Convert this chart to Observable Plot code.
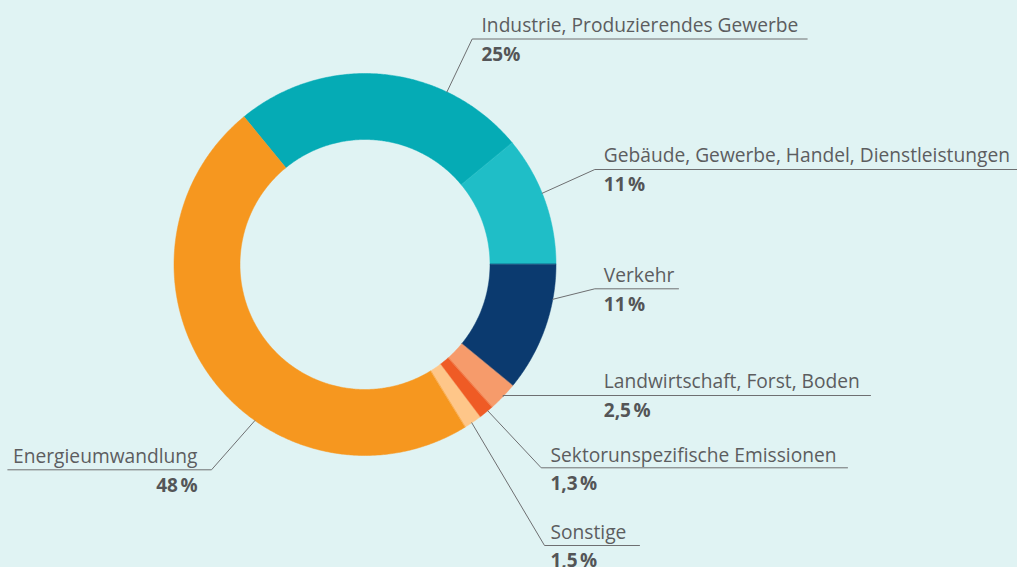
<!DOCTYPE html>
<html>
<head>
<meta charset="utf-8">
<script src="https://cdn.jsdelivr.net/npm/d3@7"></script>
<script src="https://cdn.jsdelivr.net/npm/@observablehq/plot@0.6"></script>
<style>
  html, body { margin: 0; padding: 0; background: #e0f3f3; }
  #chart svg { display: block; background: #e0f3f3; }
</style>
</head>
<body>
<div id="chart"></div>
<script>
// ---- data ----
const names = [
  "Industrie, Produzierendes Gewerbe",
  "Gebäude, Gewerbe, Handel, Dienstleistungen",
  "Verkehr",
  "Landwirtschaft, Forst, Boden",
  "Sektorunspezifische Emissionen",
  "Sonstige",
  "Energieumwandlung"
];
const values = [25, 11, 11, 2.5, 1.3, 1.5, 48];
const pctLabels = ["25%", "11\u202F%", "11\u202F%", "2,5\u202F%", "1,3\u202F%", "1,5\u202F%", "48\u202F%"];
const colors = ["#05abb5", "#1fbec7", "#0b3a6f", "#f69b6b", "#ef5b25", "#fec689", "#f6971f"];

// ---- layout (pixels) ----
const W = 1017, H = 567;
const cx = 364.5, cy = 264, rOuter = 191, rInner = 125;
const startDeg = -39.3;
// leader: start angle on ring (deg clockwise from top), elbow, end x, text anchor & positions
const layout = [
  {a: 25.4,  elbow: [471.7, 38.5],  endX: 806.7, anchor: "start", tx: 481,   ty: 31,    py: 60},
  {a: 68.1,  elbow: [594.3, 169],   endX: 1017,  anchor: "start", tx: 603.3, ty: 161,   py: 190},
  {a: 100.5, elbow: [594.3, 288.3], endX: 678,   anchor: "start", tx: 603.3, ty: 281,   py: 310},
  {a: 133.7, elbow: [502.5, 395],   endX: 870,   anchor: "start", tx: 603.3, ty: 387.5, py: 416},
  {a: 140,   elbow: [540.7, 467.3], endX: 847,   anchor: "start", tx: 550,   ty: 461,   py: 489.5},
  {a: 146,   elbow: [544, 545],     endX: 639,   anchor: "start", tx: 550,   ty: 538.5, py: 566},
  {a: 215.2, elbow: [211, 469.3],   endX: 7.3,   anchor: "end",   tx: 197,   ty: 462,   py: 491}
];

const rad = d => d * Math.PI / 180;
const px = (deg, r) => cx + r * Math.sin(rad(deg));
const py = (deg, r) => cy - r * Math.cos(rad(deg));

// ring polygons from values
const total = d3.sum(values);
const ringPts = [];
let acc = startDeg;
values.forEach((v, i) => {
  const span = v / total * 360;
  const a0 = acc, a1 = acc + span;
  const n = Math.max(4, Math.ceil(span / 0.5));
  for (let k = 0; k <= n; k++) { const a = a0 + (a1 - a0) * k / n; ringPts.push({name: names[i], x: px(a, rOuter), y: py(a, rOuter)}); }
  for (let k = n; k >= 0; k--) { const a = a0 + (a1 - a0) * k / n; ringPts.push({name: names[i], x: px(a, rInner), y: py(a, rInner)}); }
  acc = a1;
});

// leader lines
const leaderPts = [];
layout.forEach((L, i) => {
  leaderPts.push({name: names[i], x: px(L.a, rOuter), y: py(L.a, rOuter)});
  leaderPts.push({name: names[i], x: L.elbow[0], y: L.elbow[1]});
  leaderPts.push({name: names[i], x: L.endX, y: L.elbow[1]});
});

const labelRows = names.map((n, i) => ({name: n, pct: pctLabels[i], ...layout[i]}));

const font = "'Open Sans', Roboto, sans-serif";
const textMarks = ["start", "end"].flatMap(anchor => [
  Plot.text(labelRows, {filter: d => d.anchor === anchor, x: "tx", y: "ty", text: "name", textAnchor: anchor, lineAnchor: "bottom", fontSize: 19.2, fill: "#5c5d5f", fontWeight: 400}),
  Plot.text(labelRows, {filter: d => d.anchor === anchor, x: "tx", y: "py", text: "pct", textAnchor: anchor, lineAnchor: "bottom", fontSize: 19, fill: "#545557", fontWeight: 700})
]);

const plot = Plot.plot({
  width: W, height: H,
  margin: 0,
  style: {background: "#e0f3f3", fontFamily: font},
  x: {domain: [0, W], range: [0, W], axis: null},
  y: {domain: [0, H], range: [0, H], axis: null},
  color: {domain: names, range: colors},
  marks: [
    Plot.line(ringPts, {x: "x", y: "y", z: "name", fill: "name", stroke: "name", strokeWidth: 0.5, curve: "linear-closed"}),
    Plot.line(leaderPts, {x: "x", y: "y", z: "name", stroke: "#6e6f71", strokeWidth: 1}),
    ...textMarks
  ]
});
document.getElementById("chart").append(plot);
</script>
</body>
</html>
